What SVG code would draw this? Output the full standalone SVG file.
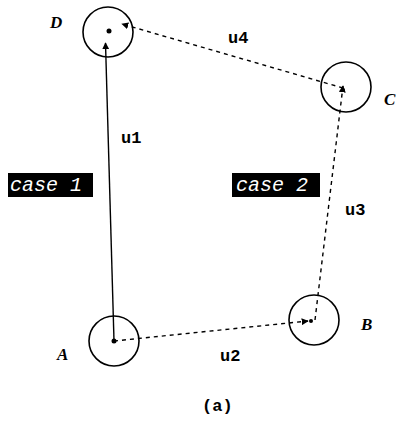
<svg xmlns="http://www.w3.org/2000/svg" width="404" height="424" viewBox="0 0 404 424">
<defs>
<marker id="ah" viewBox="0 0 10 10" refX="9" refY="5" markerWidth="7" markerHeight="7" orient="auto" markerUnits="userSpaceOnUse">
<path d="M0,0 L10,5 L0,10 Z" fill="#000"/>
</marker>
<style>
.node{fill:none;stroke:#000;stroke-width:1.6}
.dot{fill:#000}
.nl{font-family:"Liberation Serif",serif;font-weight:bold;font-style:italic;font-size:17px}
.el{font-family:"Liberation Mono",monospace;font-weight:bold;font-size:17px}
.solid{stroke:#000;stroke-width:1.4;fill:none}
.dash{stroke:#000;stroke-width:1.4;fill:none;stroke-dasharray:4,4}
.case{fill:#000}
.ct{font-family:"Liberation Mono",monospace;font-style:italic;font-size:20px;fill:#fff}
</style>
</defs>
<rect width="404" height="424" fill="#fff"/>
<g id="connectors">
<line class="solid" x1="114" y1="341" x2="105.5" y2="43" marker-end="url(#ah)"/>
<line class="dash" x1="343" y1="88" x2="122" y2="24" marker-end="url(#ah)"/>
<line class="dash" x1="114" y1="341" x2="308" y2="321" marker-end="url(#ah)"/>
<line class="dash" x1="315" y1="320" x2="343" y2="86" marker-end="url(#ah)"/>
</g>
<g id="node-D">
<circle class="node" cx="108" cy="32" r="25"/>
<circle class="dot" cx="109" cy="31" r="2.5"/>
<text class="nl" x="50" y="28">D</text>
</g>
<g id="node-C">
<circle class="node" cx="346" cy="87" r="25"/>
<circle class="dot" cx="343" cy="90" r="2"/>
<text class="nl" x="384" y="105">C</text>
</g>
<g id="node-B">
<circle class="node" cx="314" cy="320" r="25"/>
<circle class="dot" cx="311" cy="321" r="2"/>
<text class="nl" x="361" y="330">B</text>
</g>
<g id="node-A">
<circle class="node" cx="114" cy="341" r="25"/>
<circle class="dot" cx="114" cy="341" r="2.5"/>
<text class="nl" x="57" y="360">A</text>
</g>
<g id="edge-labels">
<text class="el" x="121" y="143">u1</text>
<text class="el" x="228" y="43">u4</text>
<text class="el" x="345" y="215">u3</text>
<text class="el" x="220" y="361">u2</text>
</g>
<g id="case1">
<rect class="case" x="8" y="173" width="85" height="24"/>
<text class="ct" x="10" y="191">case 1</text>
</g>
<g id="case2">
<rect class="case" x="232" y="173" width="88" height="24"/>
<text class="ct" x="236" y="191">case 2</text>
</g>
<text class="el" x="202" y="411">(a)</text>
</svg>
